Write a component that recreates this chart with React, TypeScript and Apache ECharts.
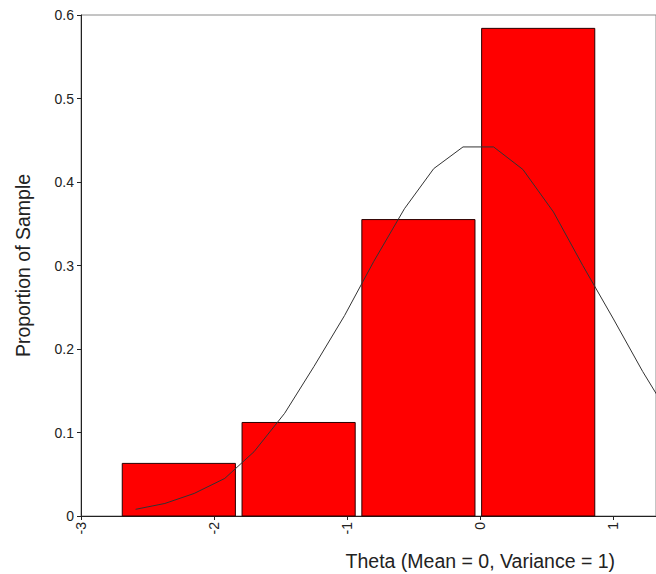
import React, { useEffect, useRef } from 'react';
import * as echarts from 'echarts';

// Histogram bins (theta) and proportions
const binStarts = [-2.69, -1.79, -0.89, 0.01];
const binEnds = [-1.84, -0.94, -0.04, 0.86];
const proportions = [0.063, 0.112, 0.355, 0.584];

// Reference curve vertices
const curveX = [-2.59, -2.37, -2.15, -1.92, -1.70, -1.47, -1.25, -1.02, -0.80, -0.57, -0.35, -0.13, 0.10, 0.32, 0.55, 0.77, 1.00, 1.22, 1.45];
const curveY = [0.008, 0.015, 0.027, 0.045, 0.077, 0.123, 0.179, 0.240, 0.305, 0.368, 0.416, 0.442, 0.442, 0.415, 0.364, 0.300, 0.236, 0.173, 0.113];

const xTitle = 'Theta (Mean = 0, Variance = 1)';
const yTitle = 'Proportion of Sample';

const FONT = 'Arial, "Liberation Sans", sans-serif';

export default function App() {
  const ref = useRef<HTMLDivElement>(null);
  useEffect(() => {
    if (!ref.current) return;
    const chart = echarts.init(ref.current, null, { renderer: 'svg' });
    const barData = binStarts.map((s, i) => [s, binEnds[i], proportions[i]]);
    const lineData = curveX.map((x, i) => [x, curveY[i]]);
    chart.setOption({
      animation: false,
      backgroundColor: '#ffffff',
      grid: {
        left: 81,
        right: -2,
        top: 15,
        bottom: 58,
        show: true,
        borderColor: '#8a8a8a',
        borderWidth: 1,
        containLabel: false,
      },
      xAxis: {
        type: 'value',
        min: -3,
        max: 1.32,
        interval: 1,
        splitLine: { show: false },
        axisLine: { show: true, onZero: false, lineStyle: { color: '#222', width: 1 } },
        axisTick: { show: true, length: 4, lineStyle: { color: '#222' } },
        axisLabel: {
          rotate: 90,
          margin: 6,
          fontSize: 14,
          color: '#222',
          fontFamily: FONT,
          showMaxLabel: false,
          formatter: (v: number) => (Number.isInteger(v) ? String(v) : ''),
        },
      },
      yAxis: {
        type: 'value',
        min: 0,
        max: 0.6,
        interval: 0.1,
        name: yTitle,
        nameLocation: 'middle',
        nameGap: 48,
        nameTextStyle: { fontSize: 19.5, color: '#222', fontFamily: FONT },
        splitLine: { show: false },
        axisLine: { show: true, onZero: false, lineStyle: { color: '#222', width: 1 } },
        axisTick: { show: true, length: 4, lineStyle: { color: '#222' } },
        axisLabel: { fontSize: 14, color: '#222', fontFamily: FONT, margin: 7 },
      },
      series: [
        {
          type: 'custom',
          data: barData,
          encode: { x: [0, 1], y: 2 },
          renderItem: (params: any, api: any) => {
            const p0 = api.coord([api.value(0), 0]);
            const p1 = api.coord([api.value(1), api.value(2)]);
            return {
              type: 'rect',
              shape: { x: p0[0], y: p1[1], width: p1[0] - p0[0], height: p0[1] - p1[1] },
              style: { fill: '#ff0000', stroke: '#2a0000', lineWidth: 1 },
            };
          },
          z: 2,
        },
        {
          type: 'line',
          data: lineData,
          symbol: 'none',
          clip: true,
          lineStyle: { color: '#333', width: 1 },
          z: 3,
        },
      ],
    });
    const cx = chart.convertToPixel({ xAxisIndex: 0 }, 0) as number;
    chart.setOption({
      graphic: [
        {
          type: 'text',
          x: cx,
          y: 561,
          style: {
            text: xTitle,
            fontSize: 19.5,
            fontFamily: FONT,
            fill: '#222',
            align: 'center',
            verticalAlign: 'middle',
          },
        },
      ],
    });
    return () => chart.dispose();
  }, []);
  return (
    <div
      ref={ref}
      style={{ position: 'absolute', left: 0, top: 0, width: 656, height: 574 }}
    />
  );
}
